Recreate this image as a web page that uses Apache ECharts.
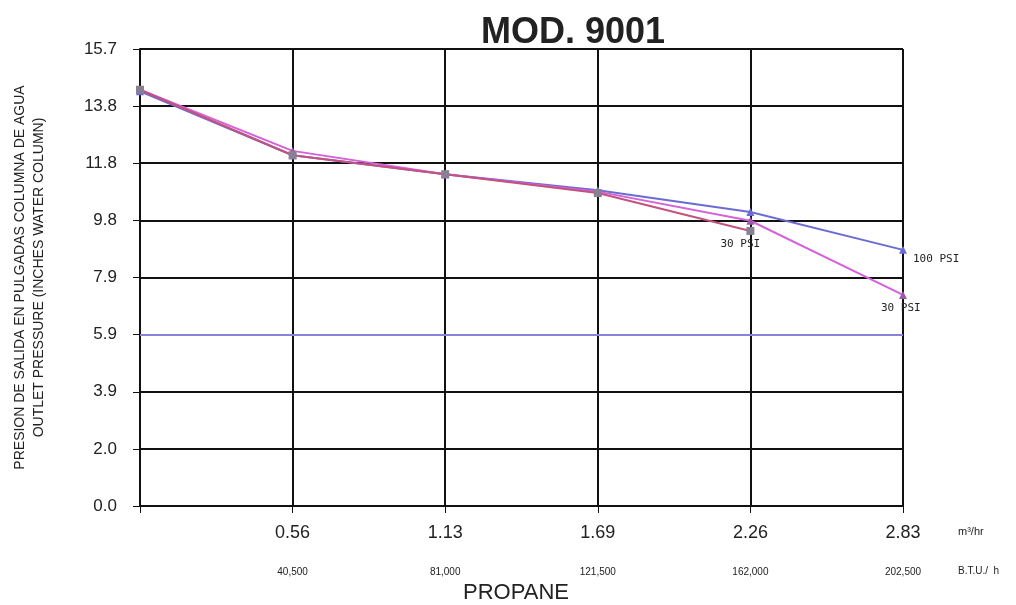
<!DOCTYPE html>
<html>
<head>
<meta charset="utf-8">
<script src="https://cdn.jsdelivr.net/npm/echarts@6/dist/echarts.min.js"></script>
<style>
html,body{margin:0;padding:0;background:#fff;}
#chart{width:1016px;height:605px;}
</style>
</head>
<body>
<div id="chart"></div>
<script>
// ---- data ----
var flowLabels = ['', '0.56', '1.13', '1.69', '2.26', '2.83'];      // m3/hr
var btuLabels  = ['', '40,500', '81,000', '121,500', '162,000', '202,500']; // B.T.U./h
var yTickLabels = ['0.0', '2.0', '3.9', '5.9', '7.9', '9.8', '11.8', '13.8', '15.7'];
var psi100 = [14.25, 12.05, 11.4, 10.85, 10.1, 8.8];
var psi30a = [14.3, 12.2, 11.4, 10.8, 9.8, 7.25];
var psi30b = [14.3, 12.05, 11.4, 10.75, 9.45];
var referenceLine = 5.8875;
var yMax = 15.7;
var yStep = yMax / 8;

var chart = echarts.init(document.getElementById('chart'));
var font = 'Liberation Sans, Arial, sans-serif';
chart.setOption({
  animation: false,
  backgroundColor: '#fff',
  title: {
    text: 'MOD. 9001',
    left: 568, top: 10, textAlign: 'center',
    textStyle: {fontFamily: font, fontWeight: 900, fontSize: 36, color: '#222'}
  },
  grid: {left: 140, right: 113, top: 49, bottom: 99, containLabel: false},
  xAxis: [{
    type: 'category', data: flowLabels, boundaryGap: false, position: 'bottom',
    axisLine: {lineStyle: {color: '#111', width: 2}},
    axisTick: {show: true, length: 7, lineStyle: {color: '#111', width: 1}},
    axisLabel: {margin: 18, fontFamily: font, fontSize: 18, color: '#222'},
    splitLine: {show: true, lineStyle: {color: '#111', width: 2}}
  }, {
    type: 'category', data: btuLabels, boundaryGap: false, position: 'bottom',
    axisLine: {show: false}, axisTick: {show: false},
    axisLabel: {margin: 61, fontFamily: font, fontSize: 10, color: '#222'},
    splitLine: {show: false}
  }],
  yAxis: {
    type: 'value', min: 0, max: yMax, interval: yStep,
    name: 'PRESION DE SALIDA EN PULGADAS COLUMNA DE AGUA\nOUTLET PRESSURE (INCHES WATER COLUMN)',
    nameLocation: 'middle', nameGap: 91, nameRotate: 90,
    nameTextStyle: {fontFamily: font, fontSize: 14, color: '#222', lineHeight: 19},
    axisLine: {show: true, lineStyle: {color: '#111', width: 2}},
    axisTick: {show: true, length: 7, lineStyle: {color: '#111'}},
    axisLabel: {margin: 23, fontFamily: font, fontSize: 17, color: '#222',
      formatter: function (v) { return yTickLabels[Math.round(v / yStep)]; }},
    splitLine: {show: true, lineStyle: {color: '#111', width: 2}}
  },
  series: [{
    name: '100 PSI', type: 'line', data: psi100,
    symbol: 'triangle', symbolSize: 8,
    lineStyle: {color: '#6b6bd4', width: 2}, itemStyle: {color: '#6b6bd4'},
    endLabel: {show: true, formatter: '100 PSI', offset: [2, 9],
      fontFamily: 'DejaVu Sans Mono, monospace', fontSize: 11, color: '#222'},
    markLine: {silent: true, symbol: 'none', label: {show: false},
      lineStyle: {color: '#8a82d8', width: 2, type: 'solid'},
      data: [{yAxis: referenceLine}]}
  }, {
    name: '30 PSI', type: 'line', data: psi30a,
    symbol: 'triangle', symbolSize: 8,
    lineStyle: {color: '#d462d8', width: 2}, itemStyle: {color: '#9c5aa8'},
    endLabel: {show: true, formatter: '30 PSI', offset: [-30, 13],
      fontFamily: 'DejaVu Sans Mono, monospace', fontSize: 11, color: '#222'}
  }, {
    name: '30 PSI b', type: 'line', data: psi30b,
    symbol: 'rect', symbolSize: 8,
    lineStyle: {color: '#c4527e', width: 2}, itemStyle: {color: '#8a8094'},
    endLabel: {show: true, formatter: '30 PSI', offset: [-38, 13],
      fontFamily: 'DejaVu Sans Mono, monospace', fontSize: 11, color: '#222'}
  }],
  graphic: [
    {type: 'text', left: 958, top: 526, style: {text: 'm³/hr', font: '11px ' + font, fill: '#222'}},
    {type: 'text', left: 958, top: 566, style: {text: 'B.T.U./  h', font: '10px ' + font, fill: '#222'}},
    {type: 'text', left: 463, top: 582, style: {text: 'PROPANE', font: '22px ' + font, fill: '#222'}}
  ]
});
</script>
</body>
</html>
